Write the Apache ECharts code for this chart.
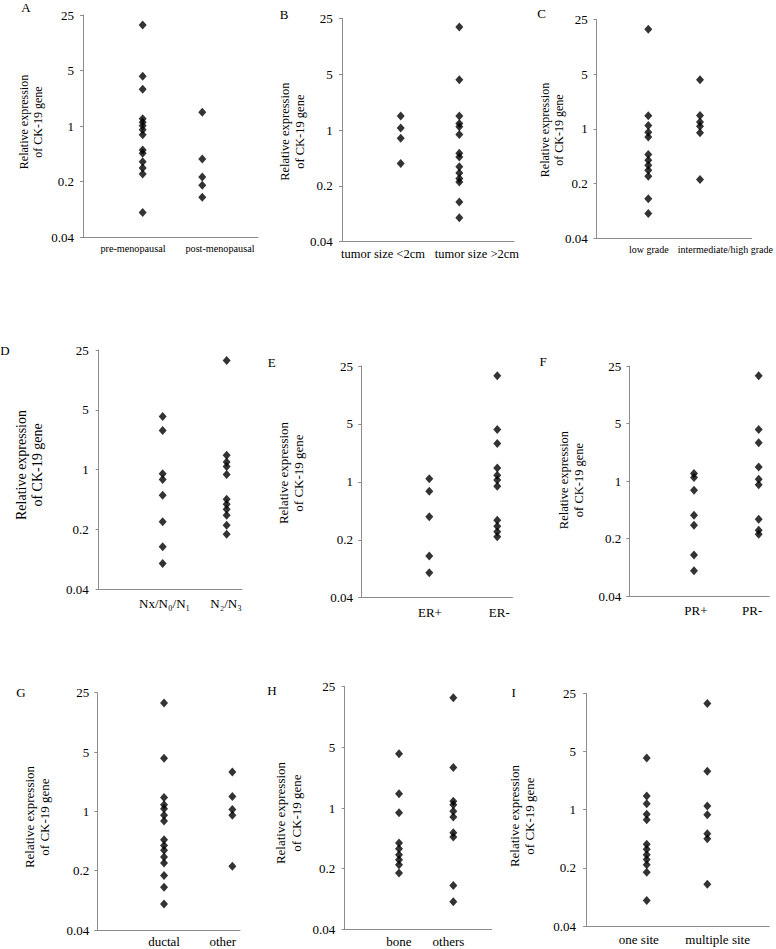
<!DOCTYPE html>
<html><head><meta charset="utf-8">
<script src="https://cdn.jsdelivr.net/npm/echarts@6/dist/echarts.min.js"></script>
<style>html,body{margin:0;padding:0;background:#fff}#c{width:776px;height:949px}</style>
</head><body><div id="c"></div>
<script>
// ---------- data ----------
const yTickLabels = ['0.04', '0.2', '1', '5', '25'];
const yTitle = 'Relative expression\nof CK-19 gene';
const panelLetters = ['A', 'B', 'C', 'D', 'E', 'F', 'G', 'H', 'I'];

const catsA = ['pre-menopausal', 'post-menopausal'];
const valsA1 = [18.7, 4.24, 2.92, 1.24, 1.12, 1.01, 0.90, 0.78, 0.50, 0.455, 0.357, 0.297, 0.25, 0.082];
const valsA2 = [1.50, 0.385, 0.229, 0.18, 0.128];

const catsB = ['tumor size <2cm', 'tumor size >2cm'];
const valsB1 = [1.50, 1.06, 0.786, 0.381];
const valsB2 = [19.4, 4.24, 1.50, 1.21, 1.10, 0.88, 0.51, 0.46, 0.346, 0.29, 0.247, 0.224, 0.126, 0.080];

const catsC = ['low grade', 'intermediate/high grade'];
const valsC1 = [18.6, 1.47, 1.10, 0.906, 0.783, 0.469, 0.397, 0.343, 0.296, 0.248, 0.128, 0.083];
const valsC2 = [4.23, 1.48, 1.22, 1.08, 0.889, 0.225];

const catsD = ['Nx/N\u2080/N\u2081', 'N\u2082/N\u2083'];
const valsD1 = [4.18, 2.87, 0.898, 0.765, 0.502, 0.246, 0.126, 0.080];
const valsD2 = [18.8, 1.47, 1.23, 1.09, 0.875, 0.452, 0.395, 0.345, 0.293, 0.224, 0.176];

const catsE = ['ER+', 'ER-'];
const valsE1 = [1.09, 0.772, 0.379, 0.127, 0.080];
const valsE2 = [19.1, 4.27, 2.90, 1.47, 1.20, 1.05, 0.886, 0.345, 0.292, 0.250, 0.217];

const catsF = ['PR+', 'PR-'];
const valsF1 = [1.23, 1.10, 0.771, 0.384, 0.290, 0.126, 0.081];
const valsF2 = [19.0, 4.23, 2.92, 1.48, 1.05, 0.902, 0.343, 0.252, 0.226];

const catsG = ['ductal', 'other'];
const valsG1 = [18.9, 4.21, 1.46, 1.20, 1.07, 0.897, 0.769, 0.463, 0.397, 0.347, 0.290, 0.246, 0.176, 0.128, 0.081];
const valsG2 = [2.91, 1.50, 1.05, 0.897, 0.225];

const catsH = ['bone', 'others'];
const valsH1 = [4.23, 1.46, 0.884, 0.395, 0.340, 0.290, 0.254, 0.222, 0.178];
const valsH2 = [18.7, 2.92, 1.20, 1.09, 0.915, 0.788, 0.520, 0.463, 0.128, 0.083];

const catsI = ['one site', 'multiple site'];
const valsI1 = [4.17, 1.46, 1.18, 0.879, 0.758, 0.383, 0.334, 0.288, 0.251, 0.218, 0.177, 0.081];
const valsI2 = [18.8, 2.89, 1.11, 0.871, 0.515, 0.448, 0.127];

const panelsData = [
  [catsA, valsA1, valsA2], [catsB, valsB1, valsB2], [catsC, valsC1, valsC2],
  [catsD, valsD1, valsD2], [catsE, valsE1, valsE2], [catsF, valsF1, valsF2],
  [catsG, valsG1, valsG2], [catsH, valsH1, valsH2], [catsI, valsI1, valsI2]
];

// ---------- layout ----------
const layout = [
  {l: 82,    t: 15,    w: 176,   h: 222.3, xmin: -0.018, xmax: 2.935, lab: [0.837, 2.297], lm: 6, fs: 10.2, title: [31, 122, 12],    letter: [26, 7]},
  {l: 340.7, t: 18.3,  w: 173.3, h: 223.4, xmin: -0.024, xmax: 2.933, lab: [0.698, 2.30],  lm: 6, fs: 12.5, title: [292.7, 131.7, 12.5], letter: [284, 14]},
  {l: 595.7, t: 19.3,  w: 156,   h: 219,   xmin: -0.017, xmax: 3.0,   lab: [1.01, 2.49],   lm: 6, fs: 10,   title: [552, 130, 12],   letter: [541.7, 13.7]},
  {l: 96.7,  t: 350,   w: 145.3, h: 239.3, xmin: -0.031, xmax: 2.24,  lab: [1.03, 1.99],   lm: 8, fs: 13,   title: [29.5, 465, 14],  letter: [5, 350]},
  {l: 361,   t: 366,   w: 151.5, h: 231.7, xmin: -0.004, xmax: 2.224, lab: [1.01, 2.03],   lm: 8, fs: 13,   title: [290.8, 473, 13], letter: [271.7, 362]},
  {l: 629.3, t: 366,   w: 140,   h: 230,   xmin: 0,      xmax: 2.164, lab: [1.03, 1.9],    lm: 8, fs: 13,   title: [571.8, 480, 12.5], letter: [543, 361]},
  {l: 97.3,  t: 692.7, w: 142.7, h: 237.3, xmin: 0.023,  xmax: 2.112, lab: [1.0, 1.86],    lm: 5, fs: 13,   title: [36.8, 817, 13],  letter: [21, 692]},
  {l: 343.3, t: 686.7, w: 148.4, h: 242.6, xmin: -0.026, xmax: 2.707, lab: [1.0, 1.91],    lm: 6, fs: 13,   title: [288.3, 813, 13], letter: [272, 690]},
  {l: 584,   t: 693.3, w: 185.3, h: 232.7, xmin: -0.035, xmax: 3.023, lab: [0.87, 2.17],   lm: 7, fs: 13,   title: [522, 816, 13],   letter: [513.7, 692]}
];

const FONT = "'Liberation Serif', 'Times New Roman', serif";
const AXIS_COLOR = '#8c8c8c';

const grid = [], xAxis = [], yAxis = [], series = [], graphic = [];
layout.forEach((L, i) => {
  const [cats, v1, v2] = panelsData[i];
  grid.push({left: L.l, top: L.t, width: L.w, height: L.h, containLabel: false, outerBoundsMode: 'none'});
  xAxis.push({
    type: 'value', gridIndex: i, min: L.xmin, max: L.xmax,
    axisLine: {show: true, lineStyle: {color: AXIS_COLOR, width: 1}},
    axisTick: {show: false}, splitLine: {show: false},
    axisLabel: {
      customValues: L.lab, margin: L.lm, color: '#000', fontFamily: FONT, fontSize: L.fs,
      formatter: (v) => (Math.abs(v - L.lab[0]) < Math.abs(v - L.lab[1]) ? cats[0] : cats[1])
    }
  });
  yAxis.push({
    type: 'log', logBase: 5, gridIndex: i, min: 0.04, max: 25,
    axisLine: {show: true, lineStyle: {color: AXIS_COLOR, width: 1}},
    axisTick: {show: true, length: 3, lineStyle: {color: AXIS_COLOR}},
    splitLine: {show: false}, minorTick: {show: false},
    axisLabel: {
      margin: 8, color: '#000', fontFamily: FONT, fontSize: 13,
      formatter: (v) => {
        const s = String(+Number(v).toPrecision(2));
        return yTickLabels.indexOf(s) >= 0 ? s : '';
      }
    }
  });
  [v1, v2].forEach((vals, k) => {
    series.push({
      type: 'scatter', xAxisIndex: i, yAxisIndex: i, name: cats[k],
      symbol: 'diamond', symbolSize: [8, 9],
      itemStyle: {color: '#000'},
      data: vals.map(v => [k + 1, v])
    });
  });
  graphic.push({
    type: 'text', x: L.title[0], y: L.title[1], rotation: Math.PI / 2,
    style: {text: yTitle, fontFamily: FONT, fontSize: L.title[2], lineHeight: L.title[2] * 1.2,
            fill: '#000', align: 'center', verticalAlign: 'middle'}
  });
  graphic.push({
    type: 'text', x: L.letter[0], y: L.letter[1],
    style: {text: panelLetters[i], fontFamily: FONT, fontSize: 13, fill: '#000', align: 'center', verticalAlign: 'middle'}
  });
});

const chart = echarts.init(document.getElementById('c'), null, {renderer: 'svg'});
chart.setOption({
  animation: false,
  backgroundColor: '#fff',
  grid, xAxis, yAxis, series, graphic
});
</script>
</body></html>
